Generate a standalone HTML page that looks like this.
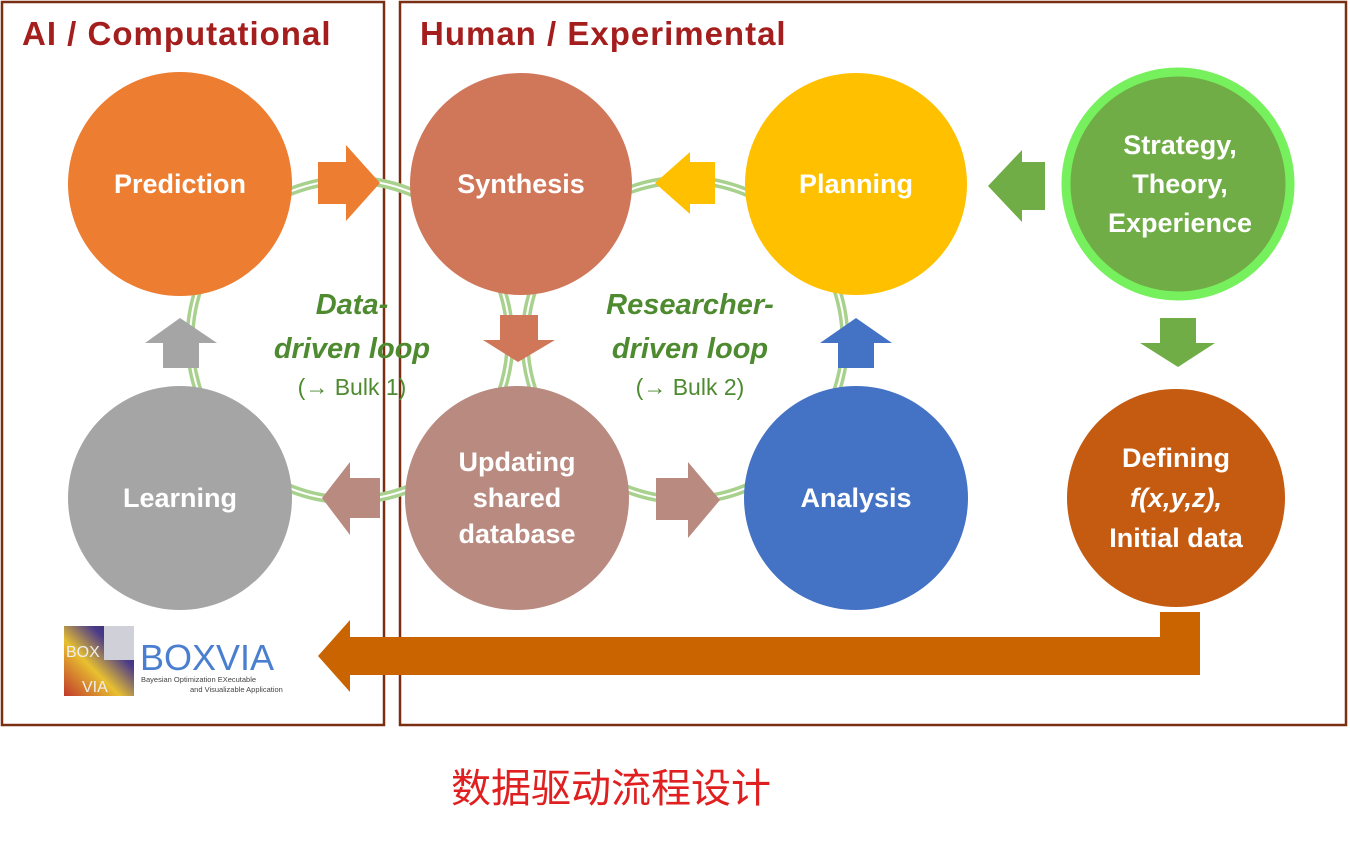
<!DOCTYPE html>
<html><head><meta charset="utf-8"><style>
body{margin:0;background:#fff;width:1350px;height:849px;overflow:hidden}
text{font-family:"Liberation Sans","DejaVu Sans",sans-serif}
</style></head><body>
<svg width="1350" height="849" viewBox="0 0 1350 849" xmlns="http://www.w3.org/2000/svg">
<rect x="2" y="2" width="382" height="723" fill="none" stroke="#7b2f12" stroke-width="2.5"/>
<rect x="400" y="2" width="946" height="723" fill="none" stroke="#7b2f12" stroke-width="2.5"/>
<text x="22" y="45" font-size="33" font-weight="bold" fill="#a51e1e" letter-spacing="1">AI / Computational</text>
<text x="420" y="45" font-size="33" font-weight="bold" fill="#a51e1e" letter-spacing="1">Human / Experimental</text>
<g fill="none">
<circle cx="350" cy="340" r="160" stroke="#a9d18e" stroke-width="9"/>
<circle cx="350" cy="340" r="160" stroke="#fff" stroke-width="2"/>
<circle cx="685" cy="340" r="160" stroke="#a9d18e" stroke-width="9"/>
<circle cx="685" cy="340" r="160" stroke="#fff" stroke-width="2"/>
</g>
<circle cx="180" cy="184" r="112" fill="#ed7d31"/>
<circle cx="521" cy="184" r="111" fill="#d0775a"/>
<circle cx="856" cy="184" r="111" fill="#ffc000"/>
<circle cx="1178" cy="184" r="112" fill="#70ad47" stroke="#77f05e" stroke-width="9"/>
<circle cx="180" cy="498" r="112" fill="#a5a5a5"/>
<circle cx="517" cy="498" r="112" fill="#b98a80"/>
<circle cx="856" cy="498" r="112" fill="#4472c4"/>
<circle cx="1176" cy="498" r="109" fill="#c55a11"/>
<polygon points="318,162 346,162 346,145 380,183 346,221 346,204 318,204" fill="#ed7d31"/>
<polygon points="715,162 690,162 690,152 655,183 690,214 690,204 715,204" fill="#ffc000"/>
<polygon points="1045,162 1022,162 1022,150 988,186 1022,222 1022,210 1045,210" fill="#70ad47"/>
<polygon points="1160,318 1196,318 1196,343 1215,343 1178,367 1140,343 1160,343" fill="#70ad47"/>
<polygon points="500,315 538,315 538,340 555,340 518,362 483,340 500,340" fill="#d0775a"/>
<polygon points="838,368 874,368 874,343 892,343 856,318 820,343 838,343" fill="#4472c4"/>
<polygon points="163,368 199,368 199,343 217,343 180,318 145,343 163,343" fill="#a5a5a5"/>
<polygon points="380,478 350,478 350,462 322,498 350,535 350,518 380,518" fill="#b98a80"/>
<polygon points="656,478 688,478 688,462 720,500 688,538 688,520 656,520" fill="#b98a80"/>
<polygon points="1200,612 1160,612 1160,637 350,637 350,620 318,656 350,692 350,675 1200,675" fill="#c96400"/>
<g fill="#fff" font-weight="bold" font-size="27" text-anchor="middle">
<text x="180" y="193">Prediction</text>
<text x="521" y="193">Synthesis</text>
<text x="856" y="193">Planning</text>
<text x="1180" y="154">Strategy,</text>
<text x="1180" y="193">Theory,</text>
<text x="1180" y="232">Experience</text>
<text x="180" y="507">Learning</text>
<text x="517" y="471">Updating</text>
<text x="517" y="507">shared</text>
<text x="517" y="543">database</text>
<text x="856" y="507">Analysis</text>
<text x="1176" y="467">Defining</text>
<text x="1176" y="507" font-style="italic">f(x,y,z),</text>
<text x="1176" y="547">Initial data</text>
</g>
<g fill="#4e8a2f" text-anchor="middle">
<text x="352" y="314" font-size="29" font-weight="bold" font-style="italic">Data-</text>
<text x="352" y="358" font-size="29" font-weight="bold" font-style="italic">driven loop</text>
<text x="352" y="395" font-size="23">(→ Bulk 1)</text>
<text x="690" y="314" font-size="29" font-weight="bold" font-style="italic">Researcher-</text>
<text x="690" y="358" font-size="29" font-weight="bold" font-style="italic">driven loop</text>
<text x="690" y="395" font-size="23">(→ Bulk 2)</text>
</g>
<defs><linearGradient id="g" x1="0" y1="1" x2="1" y2="0"><stop offset="0" stop-color="#c0392b"/><stop offset=".4" stop-color="#e8c030"/><stop offset=".7" stop-color="#4a3a8a"/><stop offset="1" stop-color="#2a2050"/></linearGradient></defs>
<rect x="64" y="626" width="70" height="70" fill="url(#g)"/>
<rect x="104" y="626" width="30" height="34" fill="#d0d0d8"/>
<text x="66" y="657" font-size="16" fill="#eee" font-family="Liberation Serif">BOX</text>
<text x="82" y="692" font-size="16" fill="#eee" font-family="Liberation Serif">VIA</text>
<text x="140" y="670" font-size="36" fill="#4a7fd0" font-family="Liberation Serif">BOXVIA</text>
<text x="141" y="682" font-size="7.5" fill="#444" font-family="Liberation Serif">Bayesian Optimization EXecutable</text>
<text x="190" y="692" font-size="7.5" fill="#444" font-family="Liberation Serif">and Visualizable Application</text>
<text x="611" y="802" font-size="40" fill="#e02020" text-anchor="middle" font-family="Liberation Sans,Noto Sans CJK SC,sans-serif">数据驱动流程设计</text>
</svg>
</body></html>
